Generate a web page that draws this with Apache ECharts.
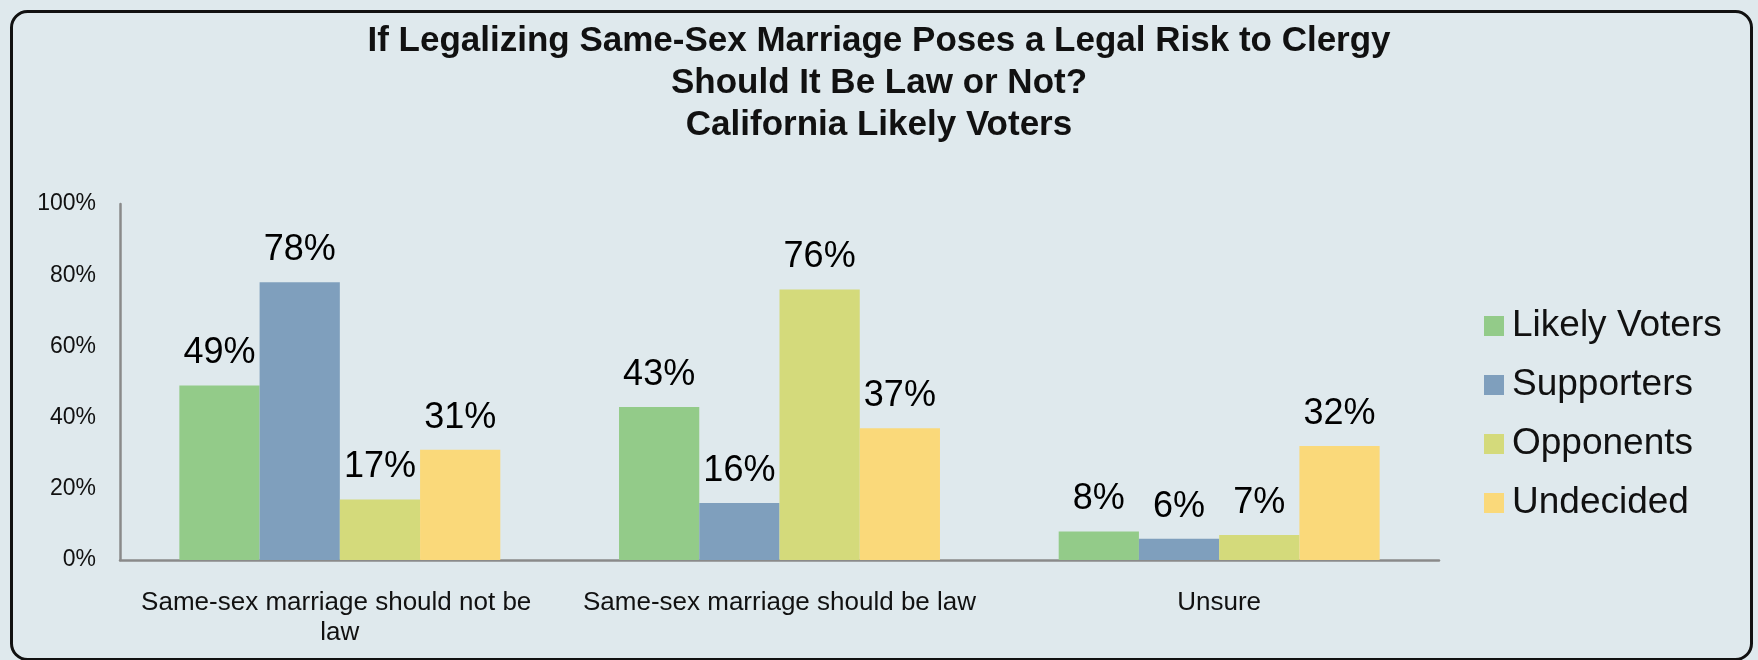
<!DOCTYPE html>
<html><head><meta charset="utf-8">
<script src="https://cdn.jsdelivr.net/npm/echarts@6/dist/echarts.min.js"></script>
<style>html,body{margin:0;padding:0;background:#dfe9ed;}#c{width:1758px;height:660px;}</style>
</head><body><div id="c"></div>
<script>
const categories = ["Same-sex marriage should not be law", "Same-sex marriage should be law", "Unsure"];
const seriesNames = ["Likely Voters", "Supporters", "Opponents", "Undecided"];
const likelyVoters = [49, 43, 8];
const supporters = [78, 16, 6];
const opponents = [17, 76, 7];
const undecided = [31, 37, 32];
const yTicks = [0, 20, 40, 60, 80, 100];
const colors = ["#93cb89", "#7f9fbd", "#d4da7b", "#fad97a"];

const values = [likelyVoters, supporters, opponents, undecided];
const chart = echarts.init(document.getElementById('c'), null, {renderer: 'canvas'});
const textFont = "'Liberation Sans', Arial, sans-serif";
chart.setOption({
  backgroundColor: '#dfe9ed',
  animation: false,
  graphic: [{
    type: 'rect', left: 9, top: 9,
    shape: {width: 1740, height: 648, r: 16},
    style: {fill: 'none', stroke: '#111', lineWidth: 3}
  }],
  title: {
    text: "If Legalizing Same-Sex Marriage Poses a Legal Risk to Clergy\nShould It Be Law or Not?\nCalifornia Likely Voters",
    left: 'center', top: 15,
    textStyle: {fontFamily: textFont, fontWeight: 'bold', fontSize: 35, lineHeight: 42, color: '#111'}
  },
  legend: {
    orient: 'vertical', left: 1479, top: 301,
    itemWidth: 20, itemHeight: 20, itemGap: 19,
    icon: 'rect',
    data: seriesNames,
    textStyle: {fontFamily: textFont, fontSize: 37, lineHeight: 40, color: '#111', padding: [0,0,0,3]}
  },
  grid: {left: 120, right: 319, top: 204, bottom: 100},
  xAxis: {
    type: 'category', data: categories,
    axisLine: {lineStyle: {color: '#8a8a8a', width: 2.5}},
    axisTick: {show: false},
    axisLabel: {interval: 0, width: 410, overflow: 'break', margin: 28,
      fontFamily: textFont, fontSize: 26, lineHeight: 30, color: '#111'}
  },
  yAxis: {
    type: 'value', min: 0, max: 100, interval: 20,
    axisLine: {show: true, lineStyle: {color: '#8a8a8a', width: 2.5}},
    axisTick: {show: false},
    splitLine: {show: false},
    axisLabel: {formatter: v => yTicks.includes(v) ? v + '%' : '', margin: 24,
      fontFamily: textFont, fontSize: 23, color: '#111'}
  },
  series: seriesNames.map((name, i) => ({
    name, type: 'bar', data: values[i],
    barGap: '0%', barCategoryGap: '27%',
    itemStyle: {color: colors[i]},
    label: {show: true, position: 'top', distance: 14, formatter: '{c}%',
      fontFamily: textFont, fontSize: 36, color: '#000'}
  }))
});
</script></body></html>
